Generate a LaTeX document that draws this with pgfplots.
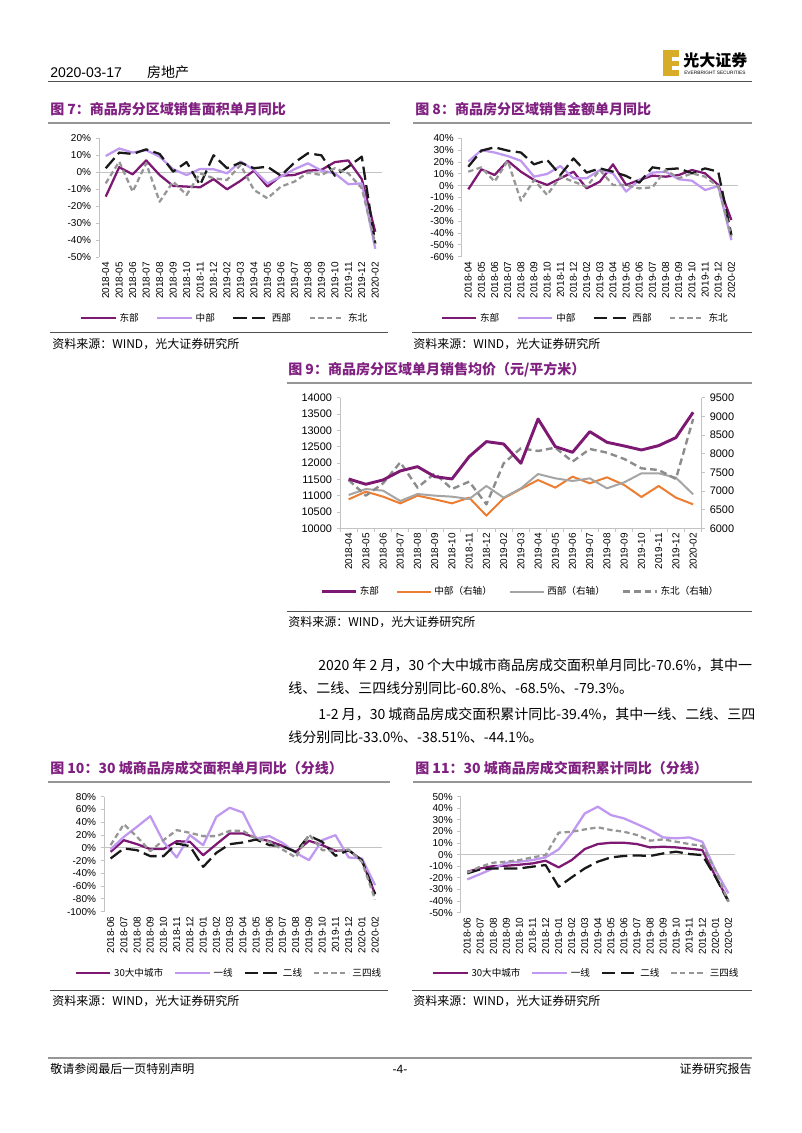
\documentclass[border=0pt]{standalone}
\usepackage{fontspec}
\setmainfont{Liberation Sans}
\newfontfamily\cjk{Noto Sans CJK SC}
\usepackage{pgfplots}
\usepackage{pgfplotstable}
\pgfplotsset{compat=1.18}

\definecolor{dpur}{RGB}{125,25,115}
\definecolor{lpur}{RGB}{192,152,240}
\definecolor{blk}{RGB}{25,25,25}
\definecolor{gdash}{RGB}{150,150,150}
\definecolor{tpur}{RGB}{128,32,128}
\definecolor{org}{RGB}{237,125,49}
\definecolor{gsol}{RGB}{165,165,165}
\definecolor{g9dash}{RGB}{140,140,140}
\definecolor{axg}{RGB}{195,195,195}
\definecolor{rulegray}{RGB}{150,150,150}
\definecolor{hdrgray}{RGB}{80,80,80}
\definecolor{logoy}{RGB}{214,172,40}

% Fig 7: x, East, Central, West, Northeast
\pgfplotstableread{
x a b c d
0 -14.3 9.6 2.4 -6.5
1 3 14 11.6 6.3
2 -1.2 11.6 10.8 -11.4
3 7 13 13.5 5.3
4 -1.6 9.2 10.8 -17.3
5 -8 1.8 0.4 -5.5
6 -8.4 -1.6 6 -13.3
7 -8.8 2 -7.5 -0.6
8 -4 1.8 10 -3.5
9 -10 -0.6 2.4 -4.5
10 -5 6.3 5.7 4.3
11 1 1.4 2.4 -10.4
12 -8.4 -6.5 3.3 -15.3
13 -2 -2.5 -2 -8.4
14 -1.6 1.8 5.7 -5.5
15 1 5.3 11.2 -0.2
16 1.4 1 10 -1.6
17 6 -0.6 -2 2.4
18 7 -7 3.3 -0.6
19 -4 -6.5 9.2 -9.4
20 -35 -45 -42 -42
}\tabA

% Fig 8
\pgfplotstableread{
x a b c d
0 -3.1 20.3 16 11.8
1 13.8 30 29.6 15.5
2 9 28 32.4 3.4
3 21 25 29.6 21
4 11.8 21 28 -12.7
5 4.8 7.6 18 4.8
6 0.6 9.9 21.7 -7.9
7 6.2 16.6 9 7.6
8 11.8 6.2 23 3.4
9 -2.3 6.2 11 -0.8
10 3.4 13.2 14.6 13.2
11 18 10.4 11.8 0.6
12 0.6 -5 8.2 0.6
13 4.8 4.8 2.5 -2.3
14 8.5 11 15.5 -1.4
15 7.6 11.8 13.8 13.2
16 9 5.4 14.6 6.2
17 13.2 4.2 10.4 10.4
18 10.4 -3.7 14.6 7.6
19 0.6 -0.3 11.8 -0.8
20 -29 -46 -41.7 -43
}\tabB

% Fig 9: East (left axis), Central, West, Northeast (right axis)
\pgfplotstableread{
x a b c d
0 11511 6776 6892 7294
1 11348 6982 7053 6875
2 11480 6848 7009 7205
3 11756 6669 6732 7768
4 11888 6875 6919 7089
5 11582 6776 6875 7473
6 11511 6669 6848 7053
7 12195 6821 6785 7250
8 12654 6339 7134 6642
9 12582 6803 6821 7741
10 11990 7053 7071 8143
11 13347 7294 7455 8071
12 12500 7089 7339 8161
13 12327 7384 7268 7786
14 12960 7205 7339 8125
15 12633 7366 7071 8027
16 12521 7160 7232 7857
17 12398 6839 7473 7607
18 12531 7134 7473 7562
19 12776 6821 7357 7321
20 13551 6642 6910 8928
}\tabC

% Fig 10
\pgfplotstableread{
x a b c d
0 -6.3 -2.6 -16.7 4.2
1 12 17.2 -1 37
2 5.7 33 -3.7 17.2
3 -2 49.6 -13 -5.2
4 -2 9.4 -13 12
5 10.4 -15.1 6.8 27.7
6 9.4 19.8 2.6 23.5
7 -11.5 4.2 -29.8 18.3
8 5.7 48.6 -7.8 18.3
9 22.5 62.7 5.7 26.6
10 22.5 55.3 8.4 26.6
11 15.7 14.6 13 14.6
12 10.4 18.3 4.2 9.4
13 3.1 7.8 2.6 -2.6
14 -6.3 -7.8 -6.3 -15.1
15 11 -19.3 18.8 20.9
16 4.2 12 9.4 -3.7
17 -4.7 19.8 -12.5 -4.7
18 -3.7 -15.1 -3.7 -2.6
19 -19.3 -16.7 -19.3 -21.9
20 -72.6 -58.5 -72.6 -81
}\tabD

% Fig 11
\pgfplotstableread{
x a b c d
0 -14.7 -21.3 -16.1 -15.5
1 -11.8 -16.7 -12.6 -10.3
2 -9.8 -11.8 -11.8 -6.9
3 -9.5 -6.9 -11.8 -6
4 -8.6 -6 -11.8 -4.6
5 -7.5 -4.6 -10.3 -2.3
6 -5.2 -2.3 -8.9 -0.3
7 -10.9 4.6 -27.6 19
8 -4.6 18.4 -19.5 19.8
9 4.9 35.6 -11.8 21.8
10 9.2 41.4 -6 23.6
11 10.3 34.2 -2.3 21.3
12 10.3 31.3 -1.1 19.8
13 9.2 26.4 -0.6 17
14 6.3 21.3 -1.1 12.1
15 6.9 14.9 1.1 13.2
16 6.3 14.1 2.6 11.2
17 5.2 14.9 0.6 9.2
18 4 11.2 -0.3 7.5
19 -18.4 -13.2 -19 -13.2
20 -39.7 -33.3 -40.5 -40.5
}\tabE

\pgfplotsset{
  labA/.style={xticklabels={2018-04,2018-05,2018-06,2018-07,2018-08,2018-09,2018-10,2018-11,2018-12,2019-02,2019-03,2019-04,2019-05,2019-06,2019-07,2019-08,2019-09,2019-10,2019-11,2019-12,2020-02}},
  labB/.style={xticklabels={2018-06,2018-07,2018-08,2018-09,2018-10,2018-11,2018-12,2019-01,2019-02,2019-03,2019-04,2019-05,2019-06,2019-07,2019-08,2019-09,2019-10,2019-11,2019-12,2020-01,2020-02}},
  base/.style={
    scale only axis, anchor=south west,
    axis lines*=left,
    x axis line style={draw=none},
    y axis line style={draw=axg, line width=0.7pt},
    xmin=-0.5, xmax=20.5, xtick={0,...,20},
    xtick style={draw=none},
    ytick style={draw=axg, line width=0.7pt},
    tick align=outside, major tick length=2.5pt,
    tick label style={font=\fontsize{7.5}{8}\selectfont, text=black},
    x tick label style={rotate=90, anchor=east, inner sep=1pt},
    yticklabel={\pgfmathprintnumber{\tick}\%},
    /pgf/number format/assume math mode=true,
    /pgf/number format/1000 sep={},
    legend columns=4,
    legend style={draw=none, fill=none, anchor=center,
      font=\cjk\fontsize{7.2}{8}\selectfont, inner sep=0pt,
      /tikz/every even column/.append style={column sep=11pt}},
    legend image code/.code={\draw[##1] (0pt,0pt) -- (26pt,0pt);},
    line join=round,
    clip=false,
  },
  sA/.style={dpur, line width=1.7pt},
  sB/.style={lpur, line width=1.7pt},
  sC/.style={blk, line width=1.7pt, dash pattern=on 10pt off 4pt},
  sD/.style={gdash, line width=1.7pt, dash pattern=on 4pt off 2.5pt},
}

\begin{document}
\begin{tikzpicture}[x=0.75pt,y=-0.75pt]
\fill[white] (0,0) rectangle (802,1133);

% ---------- header ----------
\node[anchor=base west, inner sep=0] at (50,77) {\fontsize{10.5}{12}\selectfont 2020-03-17\hspace{19pt}{\cjk 房地产}};
\draw[hdrgray, line width=1.1pt] (48,81.5) -- (752,81.5);
\fill[logoy] (663,50) rectangle (679,76);
\fill[white] (672,56.5) rectangle (679,60.5);
\fill[white] (672,65.5) rectangle (679,69.5);
\node[anchor=west, inner sep=0] at (683,60) {\cjk\bfseries\fontsize{12}{12}\selectfont 光大证券};
\node[anchor=west, inner sep=0] at (684,73) {\fontsize{3.6}{4}\selectfont EVERBRIGHT SECURITIES};

% ---------- titles & rules ----------
\node[anchor=west, inner sep=0, text=tpur] at (50,109) {\cjk\bfseries\fontsize{10.5}{12}\selectfont 图 7：商品房分区域销售面积单月同比};
\draw[rulegray, line width=1.5pt] (48,122.5) -- (390,122.5);
\node[anchor=west, inner sep=0, text=tpur] at (415,109) {\cjk\bfseries\fontsize{10.5}{12}\selectfont 图 8：商品房分区域销售金额单月同比};
\draw[rulegray, line width=1.5pt] (413,122.5) -- (752,122.5);

\draw[hdrgray, line width=0.9pt] (50,332.7) -- (388,332.7);
\node[anchor=west, inner sep=0] at (52,344) {\cjk\fontsize{9}{10}\selectfont 资料来源：WIND，光大证券研究所};
\draw[hdrgray, line width=0.9pt] (411.7,332.7) -- (752,332.7);
\node[anchor=west, inner sep=0] at (413,344) {\cjk\fontsize{9}{10}\selectfont 资料来源：WIND，光大证券研究所};

\node[anchor=west, inner sep=0, text=tpur] at (288,370) {\cjk\bfseries\fontsize{10.5}{12}\selectfont 图 9：商品房分区域单月销售均价（元/平方米）};
\draw[rulegray, line width=1.5pt] (286.7,383.3) -- (751.7,383.3);
\draw[hdrgray, line width=0.9pt] (286.7,611.7) -- (751.7,611.7);
\node[anchor=west, inner sep=0] at (288,622) {\cjk\fontsize{9}{10}\selectfont 资料来源：WIND，光大证券研究所};

% ---------- body text ----------
\node[anchor=west, inner sep=0] at (318,665) {\cjk\fontsize{10.5}{12}\selectfont 2020 年 2 月，30 个大中城市商品房成交面积单月同比-70.6\%，其中一};
\node[anchor=west, inner sep=0] at (288,688) {\cjk\fontsize{10.5}{12}\selectfont 线、二线、三四线分别同比-60.8\%、-68.5\%、-79.3\%。};
\node[anchor=west, inner sep=0] at (318,714) {\cjk\fontsize{10.5}{12}\selectfont 1-2 月，30 城商品房成交面积累计同比-39.4\%，其中一线、二线、三四};
\node[anchor=west, inner sep=0] at (288,737) {\cjk\fontsize{10.5}{12}\selectfont 线分别同比-33.0\%、-38.51\%、-44.1\%。};

\node[anchor=west, inner sep=0, text=tpur] at (50,768) {\cjk\bfseries\fontsize{10.5}{12}\selectfont 图 10：30 城商品房成交面积单月同比（分线）};
\draw[rulegray, line width=1.5pt] (48,781.7) -- (390,781.7);
\node[anchor=west, inner sep=0, text=tpur] at (415,768) {\cjk\bfseries\fontsize{10.5}{12}\selectfont 图 11：30 城商品房成交面积累计同比（分线）};
\draw[rulegray, line width=1.5pt] (413,781.7) -- (752,781.7);

\draw[hdrgray, line width=0.9pt] (50,990.7) -- (388,990.7);
\node[anchor=west, inner sep=0] at (52,1001) {\cjk\fontsize{9}{10}\selectfont 资料来源：WIND，光大证券研究所};
\draw[hdrgray, line width=0.9pt] (411.7,990.7) -- (751.7,990.7);
\node[anchor=west, inner sep=0] at (413,1001) {\cjk\fontsize{9}{10}\selectfont 资料来源：WIND，光大证券研究所};

% ---------- footer ----------
\draw[rulegray, line width=0.8pt] (48,1058) -- (752,1058);
\node[anchor=west, inner sep=0] at (50,1069) {\cjk\fontsize{9}{10}\selectfont 敬请参阅最后一页特别声明};
\node[inner sep=0] at (400,1069) {\fontsize{9}{10}\selectfont -4-};
\node[anchor=east, inner sep=0] at (752,1069) {\cjk\fontsize{9}{10}\selectfont 证券研究报告};

% ---------- Fig 7 ----------
\begin{axis}[base, labA, at={(74.25pt,-192.975pt)}, width=212.25pt, height=89.25pt,
  ymin=-50, ymax=20, ytick={-50,-40,...,20},
  legend style={at={(0.445,-0.513)}}]
\addplot[axg, line width=0.7pt, forget plot] coordinates {(-0.5,0) (20.5,0)};
\addplot[sA] table[x=x,y=a]{\tabA}; \addlegendentry{东部}
\addplot[sB] table[x=x,y=b]{\tabA}; \addlegendentry{中部}
\addplot[sC] table[x=x,y=c]{\tabA}; \addlegendentry{西部}
\addplot[sD] table[x=x,y=d]{\tabA}; \addlegendentry{东北}
\end{axis}

% ---------- Fig 8 ----------
\begin{axis}[base, labA, at={(346.275pt,-192.525pt)}, width=207.2pt, height=88.8pt,
  ymin=-60, ymax=40, ytick={-60,-50,...,40},
  legend style={at={(0.448,-0.52)}}]
\addplot[axg, line width=0.7pt, forget plot] coordinates {(-0.5,0) (20.5,0)};
\addplot[sA] table[x=x,y=a]{\tabB}; \addlegendentry{东部}
\addplot[sB] table[x=x,y=b]{\tabB}; \addlegendentry{中部}
\addplot[sC] table[x=x,y=c]{\tabB}; \addlegendentry{西部}
\addplot[sD] table[x=x,y=d]{\tabB}; \addlegendentry{东北}
\end{axis}

% ---------- Fig 9 (right axis first) ----------
\begin{axis}[scale only axis, anchor=south west, at={(255pt,-396.225pt)}, width=271.3pt, height=98pt,
  xmin=-0.5, xmax=20.5, ymin=6000, ymax=9500, ytick={6000,6500,...,9500},
  scaled y ticks=false,
  axis x line=none, axis y line*=right,
  y axis line style={draw=axg, line width=0.7pt},
  ytick style={draw=axg, line width=0.7pt},
  tick align=outside, major tick length=2.5pt,
  tick label style={font=\fontsize{8.2}{9}\selectfont, text=black},
  /pgf/number format/assume math mode=true,
  /pgf/number format/1000 sep={},
  legend columns=4,
  legend style={draw=none, fill=none, anchor=center, at={(0.5,-0.485)},
    font=\cjk\fontsize{7.2}{8}\selectfont, inner sep=0pt,
    /tikz/every even column/.append style={column sep=11pt}},
  legend image code/.code={\draw[#1] (0pt,0pt) -- (25pt,0pt);},
  line join=round, clip=false]
\addlegendimage{dpur, line width=2.2pt}\addlegendentry{东部}
\addplot[org, line width=1.5pt] table[x=x,y=b]{\tabC}; \addlegendentry{中部（右轴）}
\addplot[gsol, line width=1.5pt] table[x=x,y=c]{\tabC}; \addlegendentry{西部（右轴）}
\addplot[g9dash, line width=1.8pt, dash pattern=on 5pt off 3pt] table[x=x,y=d]{\tabC}; \addlegendentry{东北（右轴）}
\end{axis}
\begin{axis}[scale only axis, anchor=south west, at={(255pt,-396.225pt)}, width=271.3pt, height=98pt,
  xmin=-0.5, xmax=20.5, ymin=10000, ymax=14000, ytick={10000,10500,...,14000},
  scaled y ticks=false,
  axis x line*=bottom, axis y line*=left,
  x axis line style={draw=axg, line width=0.7pt},
  y axis line style={draw=axg, line width=0.7pt},
  ytick style={draw=axg, line width=0.7pt},
  xtick={0,...,20}, labA,
  major x tick style={draw=none},
  minor xtick={-0.5,0.5,...,20.5},
  minor x tick style={draw=axg, line width=0.7pt},
  tick align=outside, major tick length=2.5pt, minor tick length=2.5pt,
  tick label style={font=\fontsize{8.2}{9}\selectfont, text=black},
  x tick label style={rotate=90, anchor=east, inner sep=1pt, font=\fontsize{7.5}{8}\selectfont},
  /pgf/number format/assume math mode=true,
  /pgf/number format/1000 sep={},
  line join=round, clip=false]
\addplot[dpur, line width=2.2pt] table[x=x,y=a]{\tabC};
\end{axis}

% ---------- Fig 10 ----------
\begin{axis}[base, labB, at={(78pt,-683.775pt)}, width=208.3pt, height=86.25pt,
  ymin=-100, ymax=80, ytick={-100,-80,...,80},
  legend style={at={(0.451,-0.536)}, /tikz/every even column/.append style={column sep=6pt}}]
\addplot[axg, line width=0.7pt, forget plot] coordinates {(-0.5,0) (20.5,0)};
\addplot[sA] table[x=x,y=a]{\tabD}; \addlegendentry{30大中城市}
\addplot[sB] table[x=x,y=b]{\tabD}; \addlegendentry{一线}
\addplot[sC] table[x=x,y=c]{\tabD}; \addlegendentry{二线}
\addplot[sD] table[x=x,y=d]{\tabD}; \addlegendentry{三四线}
\end{axis}

% ---------- Fig 11 ----------
\begin{axis}[base, labB, at={(345.525pt,-684.525pt)}, width=205.7pt, height=87pt,
  ymin=-50, ymax=50, ytick={-50,-40,...,50},
  legend style={at={(0.459,-0.522)}, /tikz/every even column/.append style={column sep=6pt}}]
\addplot[axg, line width=0.7pt, forget plot] coordinates {(-0.5,0) (20.5,0)};
\addplot[sA] table[x=x,y=a]{\tabE}; \addlegendentry{30大中城市}
\addplot[sB] table[x=x,y=b]{\tabE}; \addlegendentry{一线}
\addplot[sC] table[x=x,y=c]{\tabE}; \addlegendentry{二线}
\addplot[sD] table[x=x,y=d]{\tabE}; \addlegendentry{三四线}
\end{axis}
\end{tikzpicture}
\end{document}
